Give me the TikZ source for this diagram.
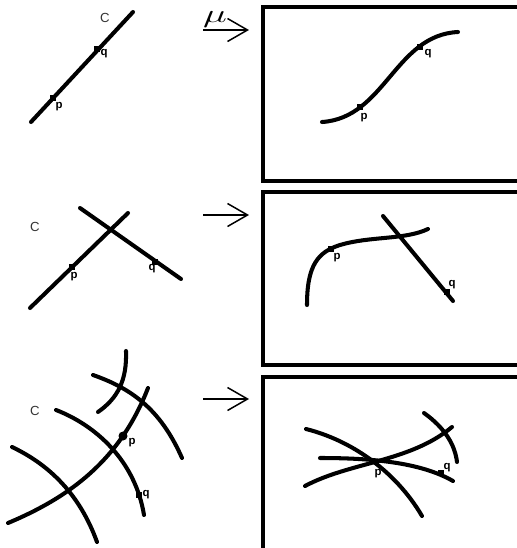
\documentclass[tikz,border=0pt]{standalone}
\usepackage{amsmath,amssymb}
\usepackage{fontspec}
\setmainfont{Liberation Sans}
\usetikzlibrary{arrows.meta}
\tikzset{
  curve/.style={line width=2.3pt, line cap=round},
  frame/.style={line width=2.8pt},
  maparrow/.style={line width=0.85pt, -{Straight Barb[length=0.4cm, width=0.46cm, line width=0.85pt]}},
  ptmark/.style={fill=black, inner sep=0pt, minimum size=0.11cm},
  ptdot/.style={circle, fill=black, inner sep=0pt, minimum size=0.18cm},
  ptlabel/.style={font=\fontsize{6.5}{7}\selectfont\bfseries},
  clabel/.style={font=\fontsize{7.5}{8}\selectfont, text=black!80}
}
\begin{document}
\begin{tikzpicture}[x=0.02cm, y=-0.02cm]
\useasboundingbox (0,0) rectangle (517,548);
% frames on the right
\draw[frame] (263,7) rectangle (519,181);
\draw[frame] (263,192) rectangle (519,365);
\draw[frame] (263,377) rectangle (519,570);
% the map arrows
\coordinate (A1) at (203,30);
\coordinate (B1) at (249,30);
\coordinate (A2) at (203,215);
\coordinate (B2) at (249,215);
\coordinate (A3) at (203,399);
\coordinate (B3) at (249,399);
\draw[maparrow] (A1) -- (B1);
\draw[maparrow] (A2) -- (B2);
\draw[maparrow] (A3) -- (B3);
\node[](mu) at (215,20) {\scalebox{1.6}[1]{\fontsize{14}{14}\selectfont$\mu$}};

% first row
\coordinate (L1a) at (31,122);
\coordinate (L1b) at (133,12);
\draw[curve] (L1a) -- (L1b);
\node[ptmark](p1) at (53,98) {};
\node[ptmark](q1) at (97,49) {};
\node[ptlabel] at (59,107) {p};
\node[ptlabel] at (104,54) {q};
\node[clabel](C1) at (105,18) {C};
\draw[curve] (322,122) .. controls (385,118) and (395,35) .. (458,32);
\node[ptmark](p1') at (360,107) {};
\node[ptmark](q1') at (420,47) {};
\node[ptlabel] at (364,118) {p};
\node[ptlabel] at (428,54) {q};

% second row
\coordinate (L2a) at (30,308);
\coordinate (L2b) at (128,213);
\coordinate (L2c) at (80,208);
\coordinate (L2d) at (181,279);
\draw[curve] (L2a) -- (L2b);
\draw[curve] (L2c) -- (L2d);
\node[ptmark](p2) at (72,267) {};
\node[ptmark](q2) at (155,262) {};
\node[ptlabel] at (74,277) {p};
\node[ptlabel] at (152,269) {q};
\node[clabel](C2) at (35,227) {C};
\draw[curve] (307,305) .. controls (307,265) and (318,252) .. (340,245)
  .. controls (370,236) and (405,240) .. (428,229);
\coordinate (L2e) at (383,216);
\coordinate (L2f) at (453,301);
\draw[curve] (L2e) -- (L2f);
\node[ptmark](p2') at (331,249) {};
\node[ptmark](q2') at (447,292) {};
\node[ptlabel] at (337,258) {p};
\node[ptlabel] at (452,285) {q};

% third row
\draw[curve] (126,351) .. controls (127,380) and (118,398) .. (98,412);
\draw[curve] (93,375) .. controls (130,388) and (160,408) .. (182,458);
\draw[curve] (8,523) .. controls (70,497) and (120,460) .. (148,388);
\draw[curve] (56,410) .. controls (95,425) and (135,460) .. (144,515);
\draw[curve] (12,447) .. controls (50,465) and (80,495) .. (97,542);
\node[ptdot](p3) at (123,436) {};
\node[ptmark](q3) at (139,495) {};
\node[ptlabel] at (132,443) {p};
\node[ptlabel] at (146,495) {q};
\node[clabel](C3) at (35,411) {C};
\draw[curve] (306,429) .. controls (350,440) and (395,470) .. (422,516);
\draw[curve] (305,486) .. controls (350,462) and (410,462) .. (452,427);
\draw[curve] (320,458) .. controls (370,458) and (420,462) .. (453,481);
\draw[curve] (424,413) .. controls (445,428) and (455,445) .. (457,462);
\node[ptmark](q3') at (441,473) {};
\node[ptlabel] at (378,474) {p};
\node[ptlabel] at (447,468) {q};
\end{tikzpicture}
\end{document}
